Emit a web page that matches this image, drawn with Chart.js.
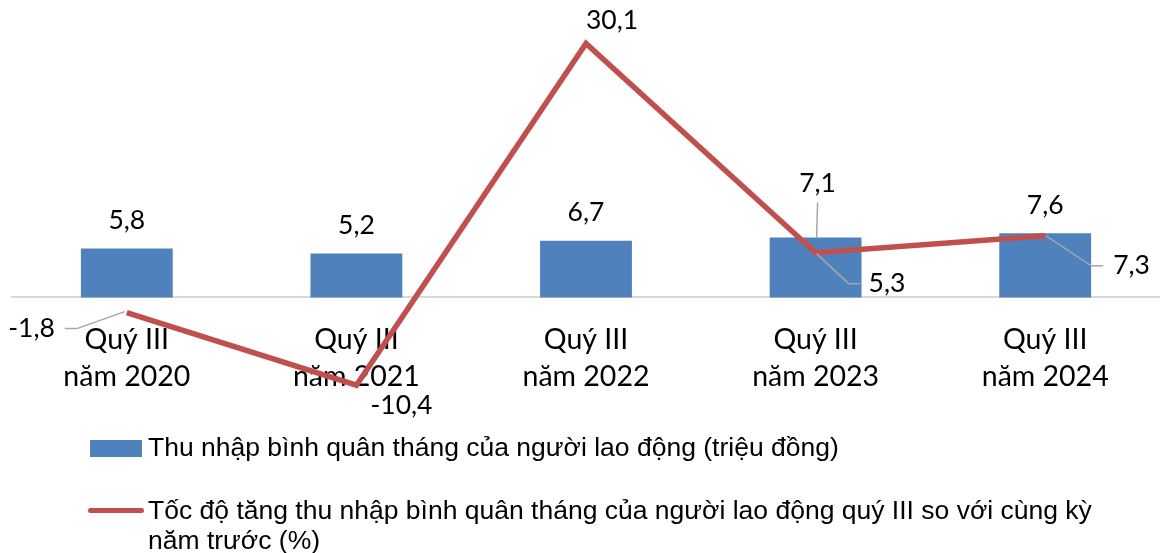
<!DOCTYPE html>
<html>
<head>
<meta charset="utf-8">
<script src="https://cdn.jsdelivr.net/npm/chart.js@4.4.1/dist/chart.umd.min.js"></script>
<style>
  html, body { margin: 0; padding: 0; background: #fff; }
  #wrap { position: relative; width: 1160px; height: 553px; overflow: hidden; }
  #chart { position: absolute; left: 0; top: 0; }
  .legend-item { position: absolute; left: 0; font-family: "Liberation Sans", Arial, sans-serif; font-size: 26.5px; line-height: 30px; color: #000; }
  .legend-item .swatch { position: absolute; }
  .legend-item .text { position: absolute; left: 148px; width: 975px; }
</style>
</head>
<body>
<div id="wrap">
  <canvas id="chart" width="1160" height="553"></canvas>
  <div id="legend"></div>
</div>
<script>
// quarters shown on the category axis
const categories = [
  ['Quý III', 'năm 2020'],
  ['Quý III', 'năm 2021'],
  ['Quý III', 'năm 2022'],
  ['Quý III', 'năm 2023'],
  ['Quý III', 'năm 2024']
];
// average monthly income, million dong
const incomeValues = [5.8, 5.2, 6.7, 7.1, 7.6];
// year-on-year growth of that income, %
const growthValues = [-1.8, -10.4, 30.1, 5.3, 7.3];

const incomeLabel = 'Thu nhập bình quân tháng của người lao động (triệu đồng)';
const growthLabel = 'Tốc độ tăng thu nhập bình quân tháng của người lao động quý III so với cùng kỳ năm trước (%)';

const barColor = '#4F81BD';
const lineColor = '#C0504D';

// where each value label sits relative to its mark (px), plus optional leader lines
const barLabelPos = [
  { dx: 0, dy: -28 },
  { dx: 0, dy: -28 },
  { dx: 0, dy: -28 },
  { dx: 2, dy: -54, leader: [[1, 0], [2, -35]] },
  { dx: 0, dy: -28 }
];
const lineLabelPos = [
  { dx: -72, dy: 16, align: 'right', leader: [[-2, -1], [-50, 16], [-62, 16]] },
  { dx: 45, dy: 20 },
  { dx: 26, dy: -23 },
  { dx: 53, dy: 31, align: 'left', leader: [[1, 1], [33, 31], [45, 31]] },
  { dx: 68, dy: 30, align: 'left', leader: [[1, 0], [46, 30], [58, 30]] }
];

function fmt(v) {
  return v.toFixed(1).replace('.', ',');
}

const valueLabels = {
  id: 'valueLabels',
  afterDatasetsDraw(chart) {
    const ctx = chart.ctx;
    ctx.save();
    ctx.font = '26.5px Lato';
    ctx.fillStyle = '#000';
    ctx.textBaseline = 'middle';
    chart.data.datasets.forEach((ds, i) => {
      const meta = chart.getDatasetMeta(i);
      const layout = ds.type === 'line' ? lineLabelPos : barLabelPos;
      meta.data.forEach((el, j) => {
        const p = layout[j];
        if (p.leader) {
          ctx.beginPath();
          ctx.strokeStyle = '#A6A6A6';
          ctx.lineWidth = 1.5;
          p.leader.forEach(([lx, ly], k) => {
            if (k === 0) ctx.moveTo(el.x + lx, el.y + ly);
            else ctx.lineTo(el.x + lx, el.y + ly);
          });
          ctx.stroke();
        }
        ctx.textAlign = p.align || 'center';
        ctx.fillText(fmt(ds.data[j]), el.x + p.dx, el.y + p.dy);
      });
    });
    ctx.restore();
  }
};

const chart = new Chart(document.getElementById('chart'), {
  type: 'bar',
  data: {
    labels: categories,
    datasets: [
      {
        type: 'line',
        label: growthLabel,
        data: growthValues,
        borderColor: lineColor,
        borderWidth: 5.5,
        pointRadius: 0,
        tension: 0,
        order: 0
      },
      {
        type: 'bar',
        label: incomeLabel,
        data: incomeValues,
        backgroundColor: barColor,
        barPercentage: 0.4,
        categoryPercentage: 1,
        order: 1
      }
    ]
  },
  options: {
    responsive: false,
    animation: false,
    layout: { padding: { left: 12, right: 0, top: 2, bottom: 129 } },
    plugins: {
      legend: { display: false },
      tooltip: { enabled: false }
    },
    scales: {
      x: {
        position: { y: 0 },
        offset: true,
        grid: { display: false, drawTicks: false },
        border: { display: true, color: '#D9D9D9', width: 2 },
        ticks: {
          color: '#000',
          font: { family: 'Lato', size: 28.5, lineHeight: 1.33 },
          padding: 23,
          maxRotation: 0,
          autoSkip: false
        }
      },
      y: {
        display: false,
        min: -15,
        max: 35
      }
    }
  },
  plugins: [valueLabels]
});

// legend below the plot, one row per series
const legendRows = [
  { label: incomeLabel, top: 432, swatch: { left: 90, top: 8, width: 52, height: 17, background: barColor, radius: 0 } },
  { label: growthLabel, top: 495, swatch: { left: 88, top: 13, width: 56, height: 5, background: lineColor, radius: 3 } }
];
const legend = document.getElementById('legend');
legendRows.forEach(row => {
  const item = document.createElement('div');
  item.className = 'legend-item';
  item.style.top = row.top + 'px';
  const s = row.swatch;
  item.innerHTML = `<div class="swatch" style="left:${s.left}px;top:${s.top}px;width:${s.width}px;height:${s.height}px;background:${s.background};border-radius:${s.radius}px"></div>` +
    `<div class="text">${row.label}</div>`;
  legend.appendChild(item);
});
</script>
</body>
</html>
